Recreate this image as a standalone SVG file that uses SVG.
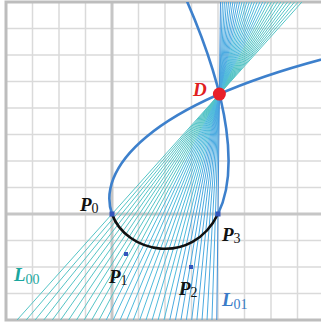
<svg xmlns="http://www.w3.org/2000/svg" width="321" height="325" viewBox="0 0 321 325">
<defs>
<clipPath id="frame"><rect x="6" y="2" width="320" height="318"/></clipPath>
<style>
.grid{stroke:#dadada;stroke-width:1.5;fill:none}
.axis{stroke:#c6c6c6;stroke-width:3;fill:none}
.border{stroke:#bdbdbd;stroke-width:3;fill:none}
.fan{fill:none;stroke-width:1}
.lbl{font-family:"Liberation Serif","Times New Roman",serif;font-weight:bold;font-style:italic;font-size:19px}
.sub{font-weight:normal;font-style:normal;font-size:14px}
.dot{fill:#3355bb}
</style>
</defs>
<rect width="321" height="325" fill="#ffffff"/>
<g id="grid">
<path class="grid" d="M32.5 2V320M59 2V320M85.5 2V320M138.5 2V320M165 2V320M191.5 2V320M218 2V320M244.5 2V320M271 2V320M297.5 2V320"/>
<path class="grid" d="M6 28.5H321M6 55H321M6 81.5H321M6 108H321M6 134.5H321M6 161H321M6 187.5H321M6 240.5H321M6 267H321M6 293.5H321"/>
<path class="axis" d="M112 2V320M6 214H321"/>
<path class="border" d="M321 2H6V320H321"/>
</g>
<g id="connectors" clip-path="url(#frame)">
<path class="fan" stroke="#55c4c6" d="M17.05 320L421.75 -131.8M26.2 320L412.6 -131.8M35.12 320L403.68 -131.8M43.81 320L394.99 -131.8M52.29 320L386.51 -131.8M60.55 320L378.25 -131.8M68.62 320L370.18 -131.8M76.5 320L362.3 -131.8M84.18 320L354.62 -131.8M91.69 320L347.11 -131.8M99.03 320L339.77 -131.8"/>
<path class="fan" stroke="#4fbadb" d="M106.19 320L332.61 -131.8M113.2 320L325.6 -131.8M120.04 320L318.76 -131.8M126.74 320L312.06 -131.8M133.29 320L305.51 -131.8M139.69 320L299.11 -131.8M145.97 320L292.83 -131.8M152.1 320L286.7 -131.8M158.11 320L280.69 -131.8M164 320L274.8 -131.8"/>
<path class="fan" stroke="#4baae0" d="M169.76 320L269.04 -131.8M175.41 320L263.39 -131.8M180.94 320L257.86 -131.8M186.36 320L252.44 -131.8M191.68 320L247.12 -131.8M196.89 320L241.91 -131.8M202 320L236.8 -131.8M207.02 320L231.78 -131.8M211.94 320L226.86 -131.8"/>
<path class="fan" stroke="#3f8fd8" stroke-width="1.8" d="M216.76 320L222.04 -131.8"/>
</g>
<g id="curve" clip-path="url(#frame)">
<path d="M346.39 53.11C139.93 103.24 97.3 172.73 112 214" fill="none" stroke="#3d80cc" stroke-width="2.6"/>
<path d="M218 214C236.72 175.84 234.71 103.1 177.62 -19.55" fill="none" stroke="#3d80cc" stroke-width="2.6"/>
<path d="M112 214C126 253.3 192 267 218 214" fill="none" stroke="#111111" stroke-width="2.6"/>
</g>
<g id="P0"><rect class="dot" x="109.5" y="211.5" width="5" height="5"/><text class="lbl" x="80" y="211" fill="#111">P<tspan class="sub" dy="2">0</tspan></text></g>
<g id="P1"><rect class="dot" x="124" y="252" width="4" height="4"/><text class="lbl" x="109" y="283" fill="#111">P<tspan class="sub" dy="2">1</tspan></text></g>
<g id="P2"><rect class="dot" x="189" y="265" width="4" height="4"/><text class="lbl" x="179" y="295" fill="#111">P<tspan class="sub" dy="2">2</tspan></text></g>
<g id="P3"><rect class="dot" x="215.5" y="211.5" width="5" height="5"/><text class="lbl" x="222" y="241" fill="#111">P<tspan class="sub" dy="2">3</tspan></text></g>
<g id="D"><circle cx="219.4" cy="94.1" r="6.5" fill="#e8202a"/><text class="lbl" x="193" y="96" fill="#e02020">D</text></g>
<g id="L00"><text class="lbl" x="14" y="281" fill="#1ba79e">L<tspan class="sub" dy="3">00</tspan></text></g>
<g id="L01"><text class="lbl" x="222" y="306" fill="#3a7cc8">L<tspan class="sub" dy="3">01</tspan></text></g>
</svg>
